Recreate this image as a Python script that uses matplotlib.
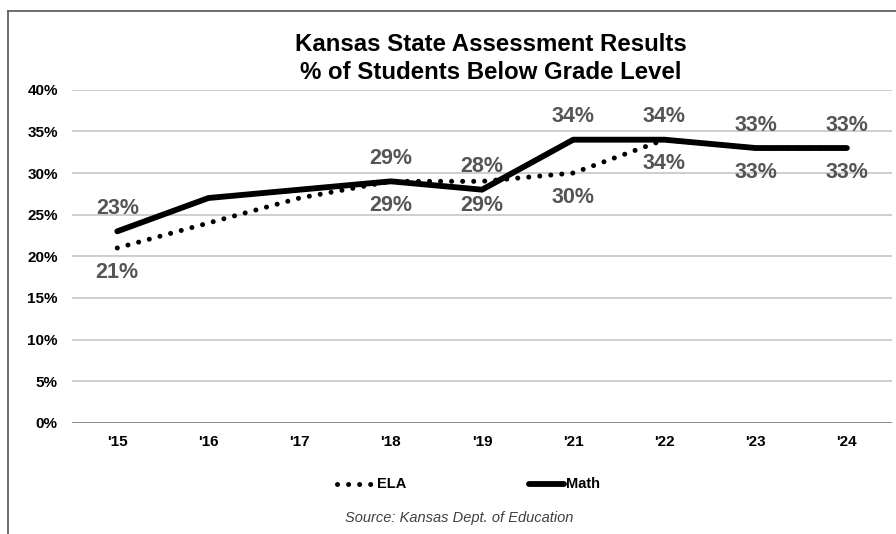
import matplotlib
import matplotlib.pyplot as plt
from matplotlib.lines import Line2D

matplotlib.use("agg")

years = ["'15", "'16", "'17", "'18", "'19", "'21", "'22", "'23", "'24"]
ela = [21, 24, 27, 29, 29, 30, 34, 33, 33]
math = [23, 27, 28, 29, 28, 34, 34, 33, 33]
# which points carry a value label
labeled = [True, False, False, True, True, True, True, True, True]

DOTS = (0, (0.01, 2.2))

fig = plt.figure(figsize=(8.96, 5.34), dpi=100, facecolor="white")
ax = fig.add_axes([0.080, 0.208, 0.916, 0.624])

x = list(range(len(years)))
ax.plot(x, ela, color="black", lw=3.6, linestyle=DOTS, dash_capstyle="round",
        label="ELA", zorder=3)
ax.plot(x, math, color="black", lw=4.2, solid_joinstyle="round", solid_capstyle="round",
        label="Math", zorder=4)

label_kw = dict(ha="center", va="center", fontsize=15.5, fontweight="bold",
                color="#555555", family="Liberation Sans", textcoords="offset points")
for i in x:
    if not labeled[i]:
        continue
    ax.annotate(f"{math[i]}%", (i, math[i]), xytext=(0, 16.5), **label_kw)
    ax.annotate(f"{ela[i]}%", (i, ela[i]), xytext=(0, -17.5), **label_kw)

ax.set_xlim(-0.5, len(years) - 0.5)
ax.set_ylim(0, 40)
ax.set_yticks(range(0, 41, 5))
ax.set_yticklabels([f"{v}%" for v in range(0, 41, 5)])
ax.set_xticks(x)
ax.set_xticklabels(years)
for lab in ax.get_xticklabels() + ax.get_yticklabels():
    lab.set_fontweight("bold")
    lab.set_family("Liberation Sans")
    lab.set_fontsize(11)
ax.tick_params(axis="both", length=0)
ax.tick_params(axis="y", pad=10)
ax.tick_params(axis="x", pad=9)

ax.grid(axis="y", color="#c6c6c6", lw=1.2)
ax.set_axisbelow(True)
for spine in ax.spines.values():
    spine.set_visible(False)
ax.axhline(0, color="#8c8c8c", lw=1.4, zorder=1)

# legend drawn by hand so each key touches its text
leg_y = 0.0936
fig.add_artist(Line2D([0.376, 0.419], [leg_y, leg_y], color="black", lw=3.6,
                      linestyle=DOTS, dash_capstyle="round"))
fig.text(0.421, leg_y, "ELA", ha="left", va="center", fontsize=10.5,
         fontweight="bold", family="Liberation Sans")
fig.add_artist(Line2D([0.590, 0.630], [leg_y, leg_y], color="black", lw=4.2,
                      solid_capstyle="round"))
fig.text(0.632, leg_y, "Math", ha="left", va="center", fontsize=10.5,
         fontweight="bold", family="Liberation Sans")

fig.text(0.548, 0.890, "Kansas State Assessment Results\n% of Students Below Grade Level",
         ha="center", va="center", fontsize=17.3, fontweight="bold",
         family="Liberation Sans", linespacing=1.3)

fig.text(0.513, 0.030, "Source: Kansas Dept. of Education", ha="center", va="center",
         fontsize=10.5, style="italic", color="#404040", family="Liberation Sans")

# outer frame of the chart area
fig.add_artist(Line2D([0.009, 0.009], [0.0, 0.979], color="#555555", lw=1.2))
fig.add_artist(Line2D([0.009, 1.0], [0.979, 0.979], color="#555555", lw=1.2))

fig.savefig("out.png", dpi=100)
